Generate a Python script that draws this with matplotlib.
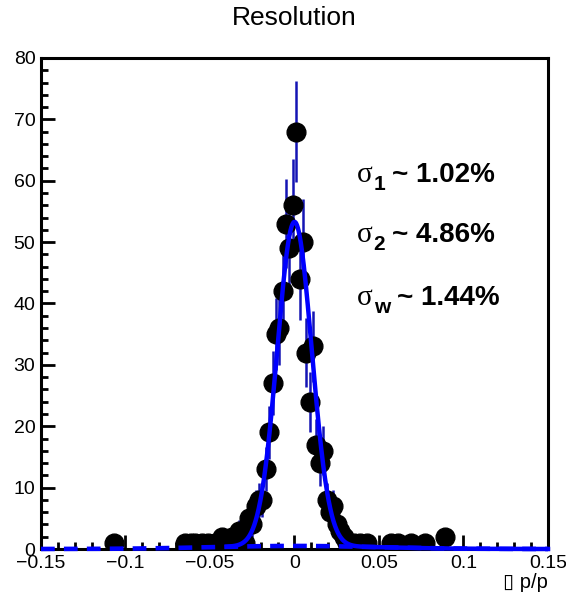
import matplotlib
matplotlib.use("Agg")
import matplotlib.pyplot as plt
import numpy as np

# histogram bins (width 0.002) with non-zero content
bin_x = [-0.107,
         -0.065, -0.061, -0.059, -0.055, -0.051, -0.047, -0.043, -0.041,
         -0.037, -0.033, -0.029, -0.027, -0.025, -0.023, -0.021, -0.019,
         -0.017, -0.015, -0.013, -0.011, -0.009, -0.007, -0.005, -0.003,
         -0.001, 0.001, 0.003, 0.005, 0.007, 0.009, 0.011, 0.013,
         0.015, 0.017, 0.019, 0.021, 0.023, 0.025, 0.027, 0.029,
         0.031, 0.035, 0.039, 0.043, 0.057, 0.061, 0.069, 0.077, 0.089]
counts = [1,
          1, 1, 1, 1, 1, 1, 2, 1,
          2, 3, 1, 5, 4, 7, 8, 8,
          13, 19, 27, 35, 36, 42, 53, 49,
          56, 68, 44, 50, 32, 24, 33, 17,
          14, 16, 8, 6, 7, 4, 3, 2,
          1, 1, 1, 1, 1, 1, 1, 1, 2]

# double gaussian fit parameters
amp1, mean, sigma1 = 52.8, 0.0, 0.0102
amp2, sigma2 = 0.5, 0.0486
fit_range = (-0.04, 0.15)

sig_subs = ['1', '2', 'w']
sig_vals = ['~ 1.02%', '~ 4.86%', '~ 1.44%']

plt.rcParams['font.family'] = ['Liberation Sans', 'DejaVu Sans']

W, H = 566, 598
fig = plt.figure(figsize=(W / 100, H / 100), dpi=100)
ax = fig.add_axes([41 / W, 1 - 549 / H, (548 - 41) / W, (549 - 58) / H])

x = np.array(bin_x)
y = np.array(counts, dtype=float)
ax.errorbar(x, y, yerr=np.sqrt(y), fmt='none', ecolor='#1414b4', elinewidth=1.8, zorder=2)
ax.plot(x, y, 'o', color='black', markersize=13.5, zorder=3)

xs = np.linspace(-0.15, 0.15, 1200)
wide = amp2 * np.exp(-0.5 * ((xs - mean) / sigma2) ** 2)
ax.plot(xs, wide, color='#0000ff', lw=3.3, ls=(0, (3.0, 2.0)), zorder=4, clip_on=False)

xf = np.linspace(fit_range[0], fit_range[1], 1200)
total = amp1 * np.exp(-0.5 * ((xf - mean) / sigma1) ** 2) + amp2 * np.exp(-0.5 * ((xf - mean) / sigma2) ** 2)
ax.plot(xf, total, color='#0000ff', lw=3.2, zorder=5, clip_on=False)

ax.set_xlim(-0.15, 0.15)
ax.set_ylim(0, 80)
ax.set_xticks(np.arange(-0.15, 0.151, 0.05))
ax.set_xticklabels(['\u22120.15', '\u22120.1', '\u22120.05', '0', '0.05', '0.1', '0.15'])
ax.set_xticks(np.arange(-0.15, 0.151, 0.01), minor=True)
ax.set_yticks(np.arange(0, 81, 10))
ax.set_yticks(np.arange(0, 81, 2), minor=True)
ax.tick_params(which='both', direction='in', top=False, right=False, width=2, labelsize=14)
ax.tick_params(which='major', length=10, pad=4)
ax.tick_params(which='minor', length=5)
for s in ax.spines.values():
    s.set_linewidth(2.2)

# sigma labels: serif sigma, bold subscript, bold value
renderer = fig.canvas.get_renderer()
baselines = [181.7, 241.5, 305.0]
for sub, val, yb in zip(sig_subs, sig_vals, baselines):
    t1 = fig.text(357 / W, 1 - yb / H, '\u03c3', family='Liberation Serif',
                  fontsize=21, va='baseline', ha='left')
    bb = t1.get_window_extent(renderer)
    t2 = fig.text((bb.x1 + 1) / W, 1 - (yb + 8) / H, sub, fontsize=15,
                  fontweight='bold', va='baseline', ha='left')
    bb2 = t2.get_window_extent(renderer)
    fig.text((bb2.x1 + 7) / W, 1 - yb / H, val, fontsize=20,
             fontweight='bold', va='baseline', ha='left')

fig.text(294.5 / W, 1 - 18 / H, 'Resolution', ha='center', va='center', fontsize=19)
fig.text(548 / W, 1 - 588 / H, '\u25af p/p', ha='right', va='baseline', fontsize=14.5)

fig.savefig('out.png', dpi=100)
